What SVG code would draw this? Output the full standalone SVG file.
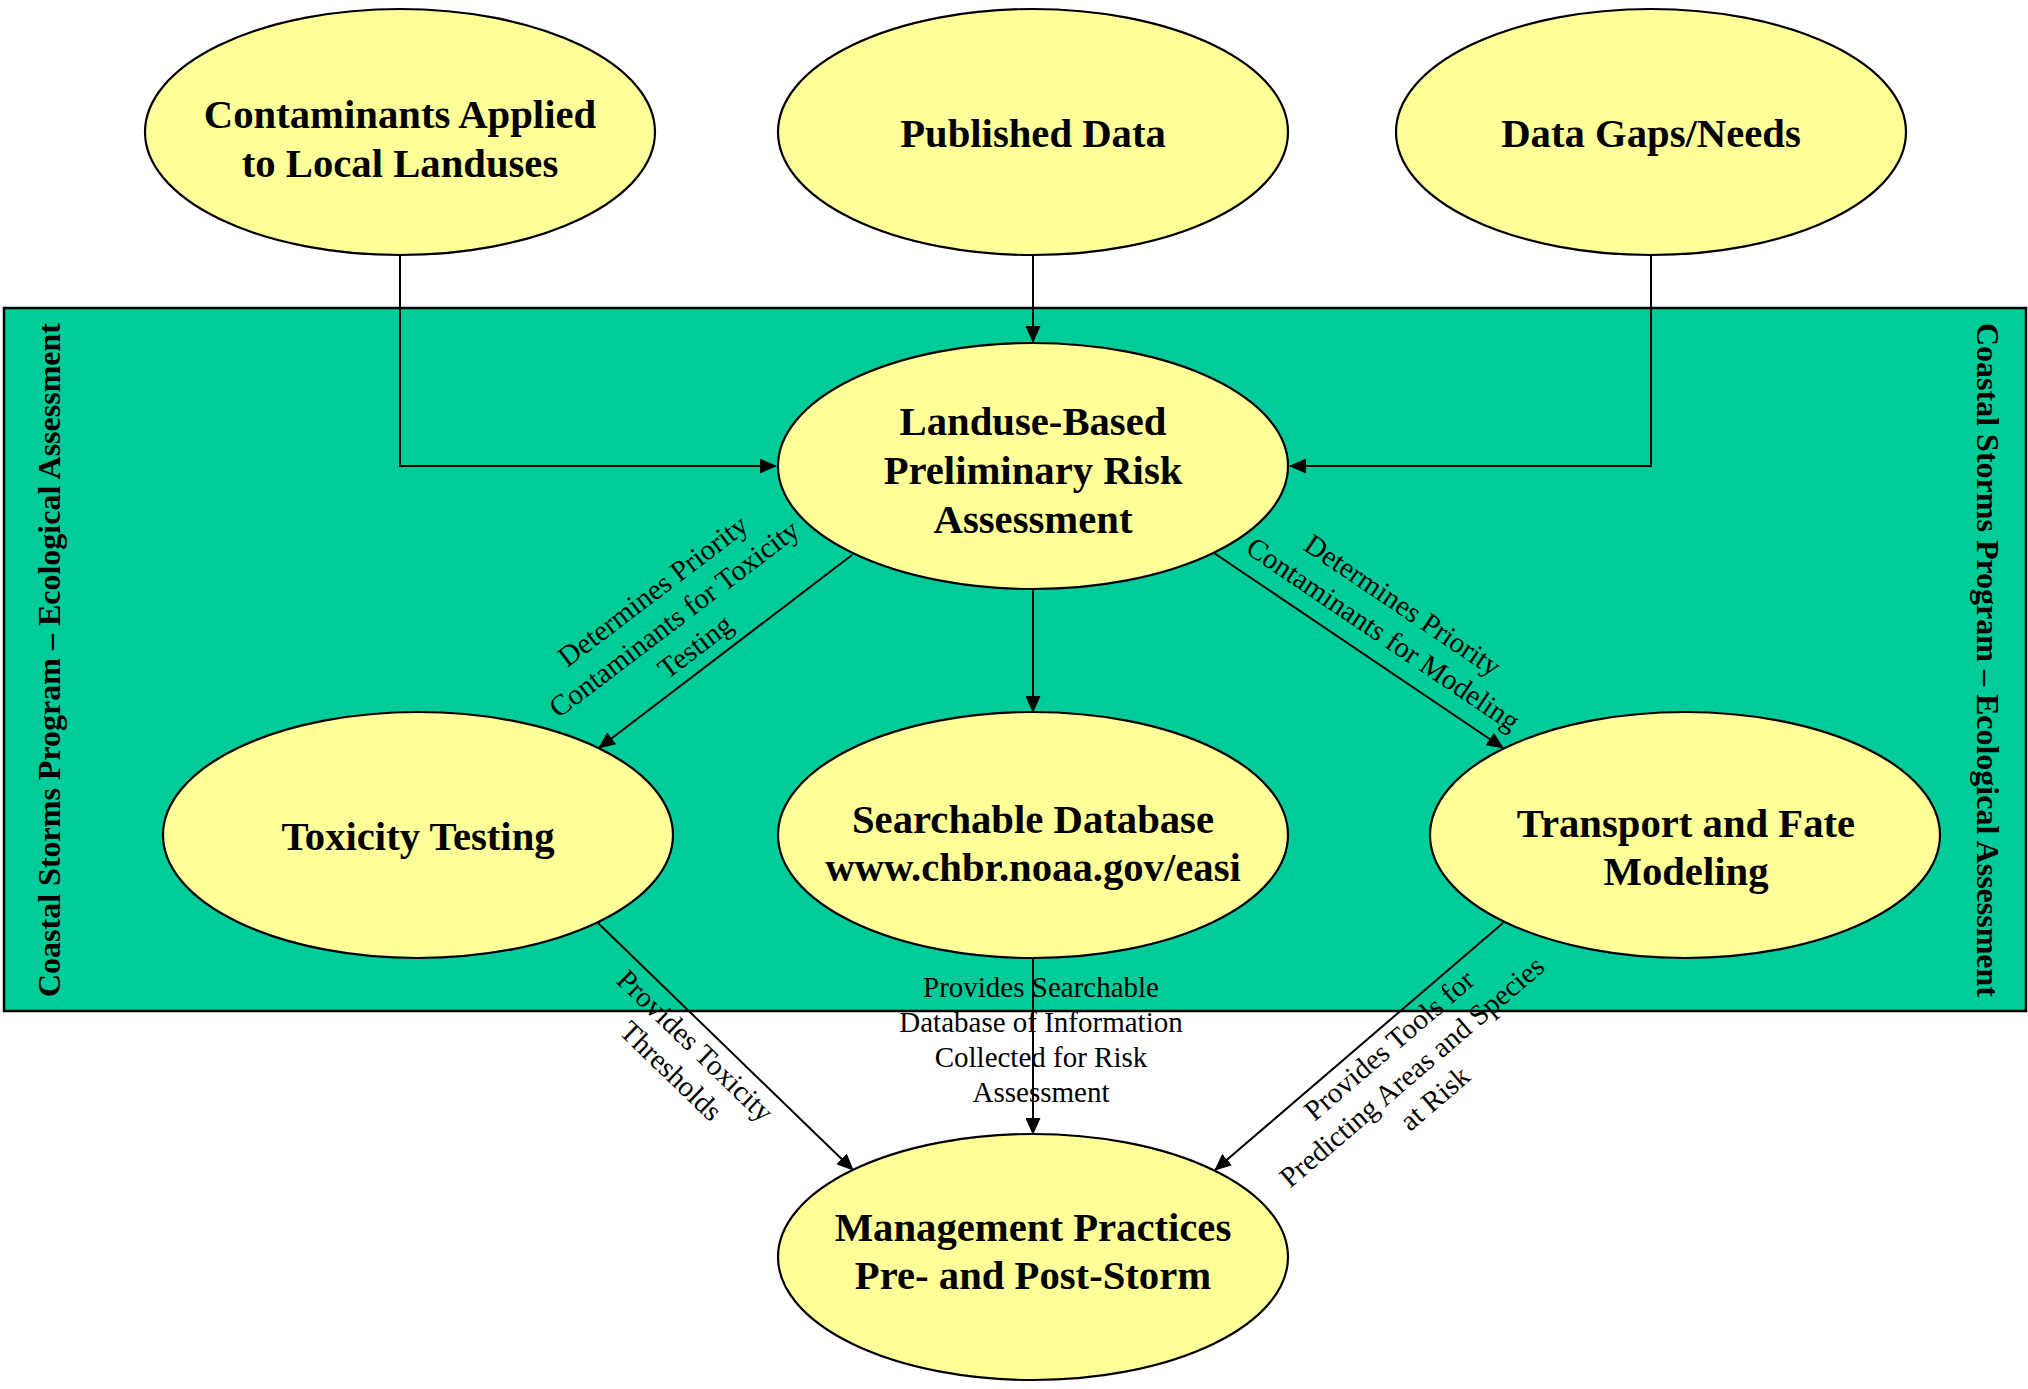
<svg xmlns="http://www.w3.org/2000/svg" width="2028" height="1389" viewBox="0 0 2028 1389">
  <style>
    .node ellipse { fill: #FFFF99; stroke: #000; stroke-width: 2.2; }
    .node text { font-family: "Liberation Serif", "Times New Roman", serif; font-weight: bold; font-size: 40.7px; fill: #000; text-anchor: middle; }
    .edge { fill: none; stroke: #000; stroke-width: 2; marker-end: url(#arrow); }
    .lbl { font-family: "Liberation Serif", "Times New Roman", serif; font-size: 29px; fill: #000; text-anchor: middle; }
    .side { font-family: "Liberation Serif", "Times New Roman", serif; font-weight: bold; font-size: 32px; fill: #000; text-anchor: middle; }
  </style>
  <defs>
    <marker id="arrow" viewBox="0 0 17 15" markerWidth="17" markerHeight="15" refX="16" refY="7.5" orient="auto" markerUnits="userSpaceOnUse">
      <path d="M0,0 L17,7.5 L0,15 Z" fill="#000"/>
    </marker>
  </defs>

  <rect width="2028" height="1389" fill="#FFFFFF"/>

  <!-- program boundary -->
  <g id="program-area">
    <rect x="4" y="308" width="2022" height="703" fill="#00CC99" stroke="#000" stroke-width="2.5"/>
    <text class="side" transform="translate(60,660) rotate(-90)">Coastal Storms Program – Ecological Assessment</text>
    <text class="side" transform="translate(1977,660) rotate(90)">Coastal Storms Program – Ecological Assessment</text>
  </g>

  <!-- connectors -->
  <g id="connectors">
    <path class="edge" d="M400,255 V466 H776"/>
    <path class="edge" d="M1033,255 V342"/>
    <path class="edge" d="M1651,255 V466 H1290"/>
    <path class="edge" d="M852,555 L599,748"/>
    <path class="edge" d="M1033,588 V712"/>
    <path class="edge" d="M1214,553 L1503,748"/>
    <path class="edge" d="M598,923 L853,1170"/>
    <path class="edge" d="M1033,958 V1134"/>
    <path class="edge" d="M1503,923 L1215,1170"/>

    <g transform="translate(675,620) rotate(-37.3)">
      <text class="lbl" x="0" y="-27">Determines Priority</text>
      <text class="lbl" x="0" y="8">Contaminants for Toxicity</text>
      <text class="lbl" x="0" y="43">Testing</text>
    </g>
    <g transform="translate(1392,621) rotate(34)">
      <text class="lbl" x="0" y="-9.5">Determines Priority</text>
      <text class="lbl" x="0" y="25.5">Contaminants for Modeling</text>
    </g>
    <g transform="translate(682,1059.5) rotate(44)">
      <text class="lbl" x="0" y="-9.5">Provides Toxicity</text>
      <text class="lbl" x="0" y="25.5">Thresholds</text>
    </g>
    <g>
      <text class="lbl" x="1041" y="997">Provides Searchable</text>
      <text class="lbl" x="1041" y="1032">Database of Information</text>
      <text class="lbl" x="1041" y="1067">Collected for Risk</text>
      <text class="lbl" x="1041" y="1102">Assessment</text>
    </g>
    <g transform="translate(1413,1073) rotate(-40.6)">
      <text class="lbl" x="0" y="-27">Provides Tools for</text>
      <text class="lbl" x="0" y="8">Predicting Areas and Species</text>
      <text class="lbl" x="0" y="43">at Risk</text>
    </g>
  </g>

  <!-- nodes -->
  <g id="contaminants" class="node">
    <ellipse cx="400" cy="132" rx="255" ry="123"/>
    <text x="400" y="128">Contaminants Applied</text>
    <text x="400" y="177">to Local Landuses</text>
  </g>
  <g id="published-data" class="node">
    <ellipse cx="1033" cy="132" rx="255" ry="123"/>
    <text x="1033" y="147">Published Data</text>
  </g>
  <g id="data-gaps" class="node">
    <ellipse cx="1651" cy="132" rx="255" ry="123"/>
    <text x="1651" y="147">Data Gaps/Needs</text>
  </g>
  <g id="risk-assessment" class="node">
    <ellipse cx="1033" cy="466" rx="255" ry="123"/>
    <text x="1033" y="435">Landuse-Based</text>
    <text x="1033" y="484">Preliminary Risk</text>
    <text x="1033" y="533">Assessment</text>
  </g>
  <g id="toxicity-testing" class="node">
    <ellipse cx="418" cy="835" rx="255" ry="123"/>
    <text x="418" y="850">Toxicity Testing</text>
  </g>
  <g id="searchable-database" class="node">
    <ellipse cx="1033" cy="835" rx="255" ry="123"/>
    <text x="1033" y="833">Searchable Database</text>
    <text x="1033" y="881">www.chbr.noaa.gov/easi</text>
  </g>
  <g id="transport-fate" class="node">
    <ellipse cx="1685" cy="835" rx="255" ry="123"/>
    <text x="1686" y="837">Transport and Fate</text>
    <text x="1686" y="885">Modeling</text>
  </g>
  <g id="management" class="node">
    <ellipse cx="1033" cy="1257" rx="255" ry="123"/>
    <text x="1033" y="1241">Management Practices</text>
    <text x="1033" y="1289">Pre- and Post-Storm</text>
  </g>
</svg>
